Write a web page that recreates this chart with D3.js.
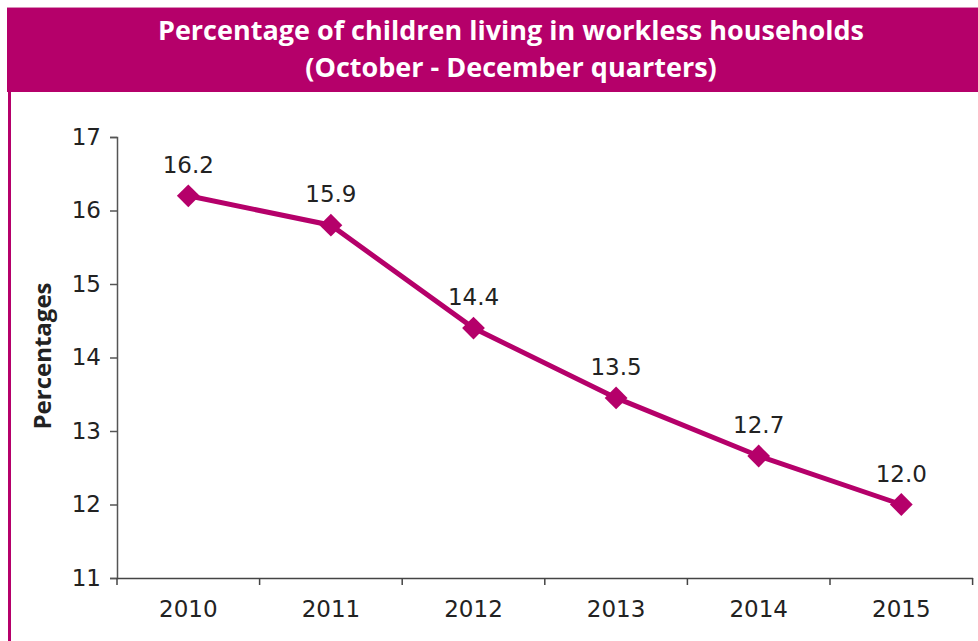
<!DOCTYPE html>
<html><head><meta charset="utf-8">
<script src="https://cdn.jsdelivr.net/npm/d3@7"></script>
<style>body{margin:0;background:#fff}svg{display:block}</style>
</head><body>
<svg id="c" width="978" height="641"></svg>
<script>
const years = ["2010","2011","2012","2013","2014","2015"];
const values = [16.2, 15.8, 14.4, 13.45, 12.66, 12.0];
const valueLabels = ["16.2","15.9","14.4","13.5","12.7","12.0"];
const yTicks = [11,12,13,14,15,16,17];
const titleLines = ["Percentage of children living in workless households","(October - December quarters)"];
const yTitle = "Percentages";

const col = "#B5006A";
const svg = d3.select("#c");
const font = "'Open Sans', 'Noto Sans', sans-serif";
const numFont = "'DejaVu Sans', sans-serif";

svg.append("rect").attr("x",7).attr("y",7).attr("width",971).attr("height",85).attr("fill",col);
svg.append("line").attr("x1",7).attr("x2",978).attr("y1",7.5).attr("y2",7.5).attr("stroke","#d98cb8").attr("stroke-width",1);
svg.append("rect").attr("x",8).attr("y",92).attr("width",3).attr("height",549).attr("fill",col);

titleLines.forEach((t,i)=>{
  svg.append("text").attr("x",511).attr("y",40+i*37).attr("text-anchor","middle")
    .attr("fill","#fff").attr("font-family",font).attr("font-weight","bold").attr("font-size",27).text(t);
});

const x = d3.scaleBand().domain(years).range([117,972.6]);
const y = d3.scaleLinear().domain([11,17]).range([578,137]);

const ya = svg.append("g").attr("transform","translate(117,0)")
  .call(d3.axisLeft(y).tickValues(yTicks).tickSize(7).tickPadding(9).tickFormat(d3.format("d")));
ya.select(".domain").attr("stroke","#555").attr("stroke-width",1.5);
ya.selectAll(".tick line").attr("stroke","#555").attr("stroke-width",1.5);
ya.selectAll("text").attr("font-family",numFont).attr("font-size",23).attr("fill","#222");

const xa = svg.append("g").attr("transform","translate(0,578)")
  .call(d3.axisBottom(x).tickSize(0).tickPadding(23));
xa.select(".domain").attr("stroke","#444").attr("stroke-width",1.5);
xa.selectAll("text").attr("font-family",numFont).attr("font-size",23).attr("fill","#222");
const bounds = years.map(d=>x(d)).concat([x(years[years.length-1])+x.bandwidth()]);
xa.selectAll(".bt").data(bounds).enter().append("line")
  .attr("x1",d=>d).attr("x2",d=>d).attr("y1",0).attr("y2",7)
  .attr("stroke","#444").attr("stroke-width",1.5);

svg.append("text").attr("transform","translate(51,356) rotate(-90)").attr("text-anchor","middle")
  .attr("font-family",font).attr("font-weight","bold").attr("font-size",24).attr("fill","#222").text(yTitle);

const pts = years.map((d,i)=>[x(d)+x.bandwidth()/2, y(values[i])]);
svg.append("path").attr("d",d3.line()(pts)).attr("fill","none").attr("stroke",col).attr("stroke-width",5);
svg.selectAll(".m").data(pts).enter().append("path")
  .attr("d",d3.symbol().type(d3.symbolSquare).size(260))
  .attr("transform",d=>`translate(${d[0]},${d[1]}) rotate(45)`).attr("fill",col);
svg.selectAll(".vl").data(pts).enter().append("text")
  .attr("x",d=>d[0]).attr("y",d=>d[1]-23).attr("text-anchor","middle")
  .attr("font-family",numFont).attr("font-size",23).attr("fill","#222")
  .text((d,i)=>valueLabels[i]);
</script>
</body></html>
